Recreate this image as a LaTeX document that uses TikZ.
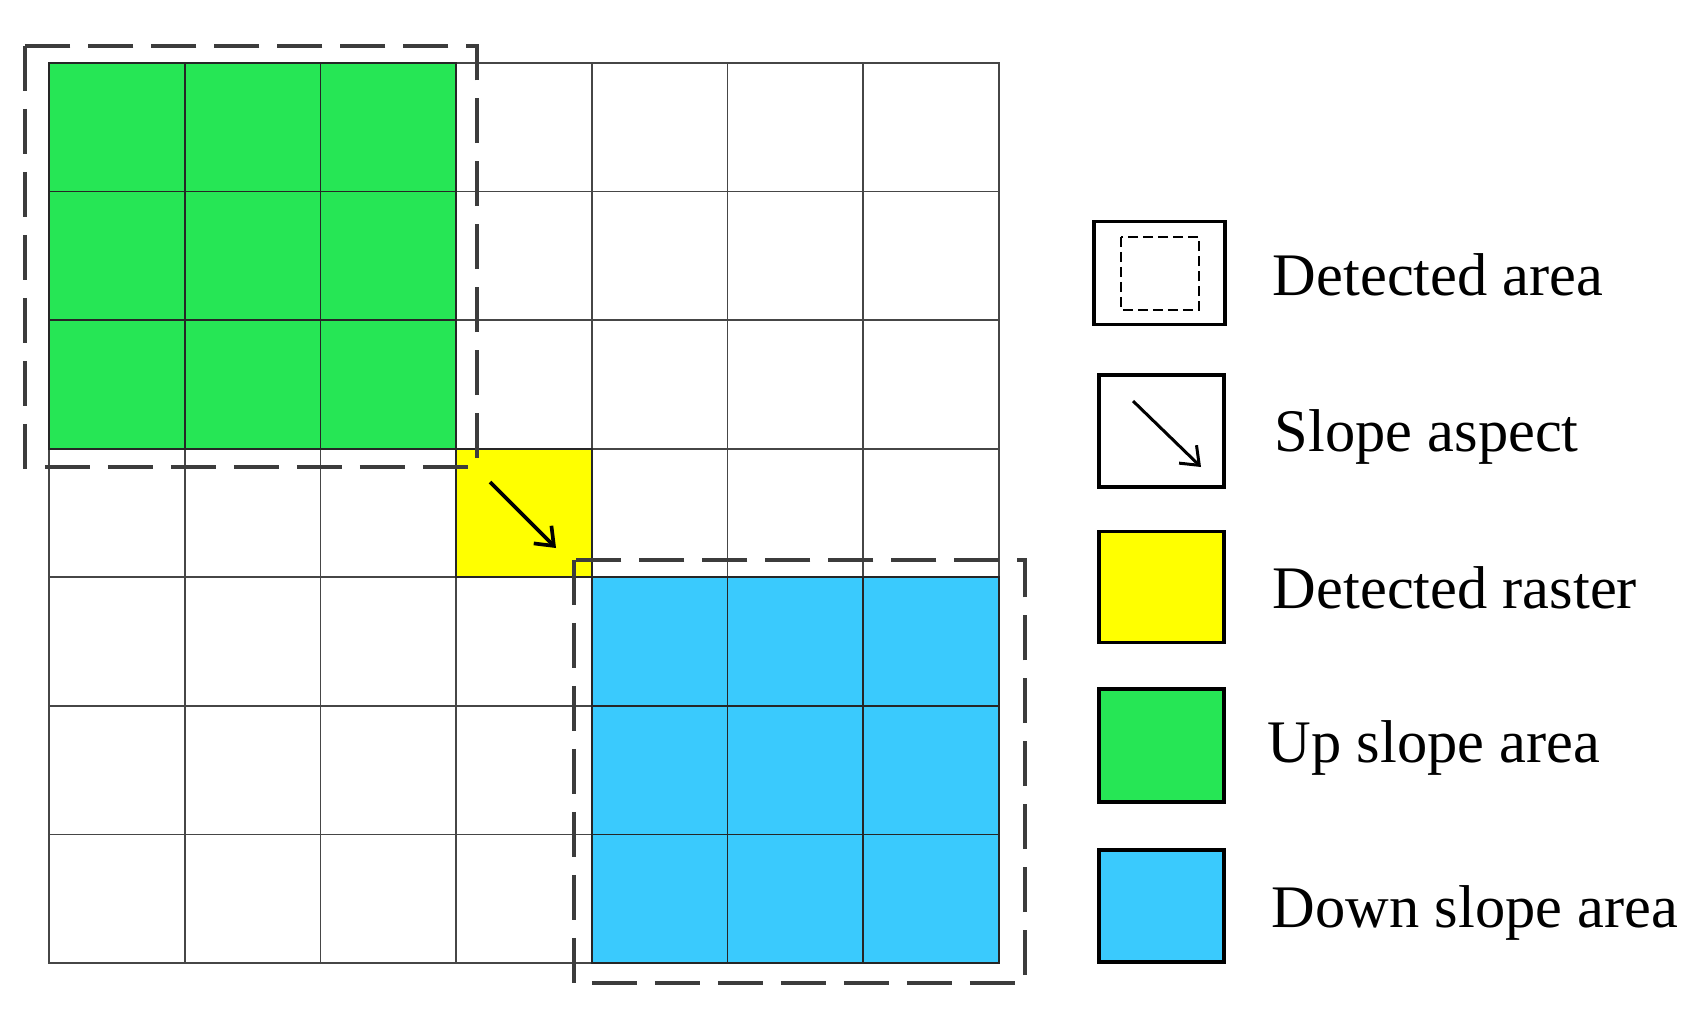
\documentclass[tikz,border=0pt]{standalone}
\usepackage{fontspec}
\setmainfont{Liberation Serif}
\usetikzlibrary{positioning,arrows.meta}
\definecolor{UpGreen}{RGB}{38,230,85}
\definecolor{DownBlue}{RGB}{58,202,253}
\definecolor{RasterYellow}{RGB}{255,255,0}
\definecolor{GridGray}{RGB}{70,70,70}
\definecolor{AreaGray}{RGB}{60,60,60}

\begin{document}
\begin{tikzpicture}[x=0.02cm,y=-0.02cm]
\tikzset{CellStyle/.style =
	{draw=GridGray,
		line width=1pt},
	AreaStyle/.style =
	{draw=AreaGray,
		line width=2.5pt,
		dash pattern=on 0.9cm off 0.36cm},
	KeyStyle/.style =
	{shape = rectangle,
		draw = black,
		line width=1.8pt,
		inner sep=0pt},
	LabelStyle/.style =
	{font=\fontsize{34.4}{40}\selectfont,
		inner sep=0pt},
	AspectStyle/.style =
	{-{Straight Barb[length=0.32cm,width=0.5cm]},
		line width=2.1pt}}
\useasboundingbox (0,0) rectangle (1699,1017);

% raster grid, 7 x 7
\def\cw{135.71}
\def\ch{128.57}
\fill[UpGreen] (49,63) rectangle ({49+3*\cw},{63+3*\ch});
\fill[RasterYellow] ({49+3*\cw},{63+3*\ch}) rectangle ({49+4*\cw},{63+4*\ch});
\fill[DownBlue] ({49+4*\cw},{63+4*\ch}) rectangle (999,963);
\foreach \c in {0,...,6}
	\foreach \r in {0,...,6}
		\draw[CellStyle] ({49+\c*\cw},{63+\r*\ch}) rectangle +(\cw,\ch);
% darker lines on the coloured cells
\foreach \c/\r in {0/0,1/0,2/0,0/1,1/1,2/1,0/2,1/2,2/2,3/3,4/4,5/4,6/4,4/5,5/5,6/5,4/6,5/6,6/6}
	\draw[CellStyle, draw=black!85] ({49+\c*\cw},{63+\r*\ch}) rectangle +(\cw,\ch);

% detected areas
\draw[AreaStyle] (25,46) rectangle (477,467);
\draw[AreaStyle] (574,560) rectangle (1025,983);

\coordinate (AspectTail) at (490,482);
\coordinate (AspectHead) at (556,548);
\draw[AspectStyle] (AspectTail) -- (AspectHead);

% legend
\node[KeyStyle, minimum width=2.62cm, minimum height=2.06cm] (KeyArea) at (1159.5,273) {};
\draw[line width=1.2pt, dash pattern=on 0.2cm off 0.1cm] (1121,237) rectangle (1199,310);
\node[KeyStyle, minimum width=2.5cm, minimum height=2.24cm] (KeyAspect) at (1161.5,431) {};
\coordinate (KeyTail) at (1133,401);
\coordinate (KeyHead) at (1201,467);
\draw[AspectStyle, line width=1.7pt] (KeyTail) -- (KeyHead);
\node[KeyStyle, fill=RasterYellow, minimum width=2.5cm, minimum height=2.22cm] (KeyRaster) at (1161.5,587) {};
\node[KeyStyle, fill=UpGreen, minimum width=2.5cm, minimum height=2.26cm] (KeyUp) at (1161.5,745.5) {};
\node[KeyStyle, fill=DownBlue, minimum width=2.5cm, minimum height=2.24cm] (KeyDown) at (1161.5,906) {};

\node[LabelStyle, right=0.92cm of KeyArea, anchor=base west, yshift=-0.46cm] (TxtArea) {Detected area};
\node[LabelStyle, right=0.98cm of KeyAspect, anchor=base west, yshift=-0.4cm] (TxtAspect) {Slope aspect};
\node[LabelStyle, right=0.94cm of KeyRaster, anchor=base west, yshift=-0.42cm] (TxtRaster) {Detected raster};
\node[LabelStyle, right=0.84cm of KeyUp, anchor=base west, yshift=-0.34cm] (TxtUp) {Up slope area};
\node[LabelStyle, right=0.92cm of KeyDown, anchor=base west, yshift=-0.42cm] (TxtDown) {Down slope area};
\end{tikzpicture}
\end{document}
